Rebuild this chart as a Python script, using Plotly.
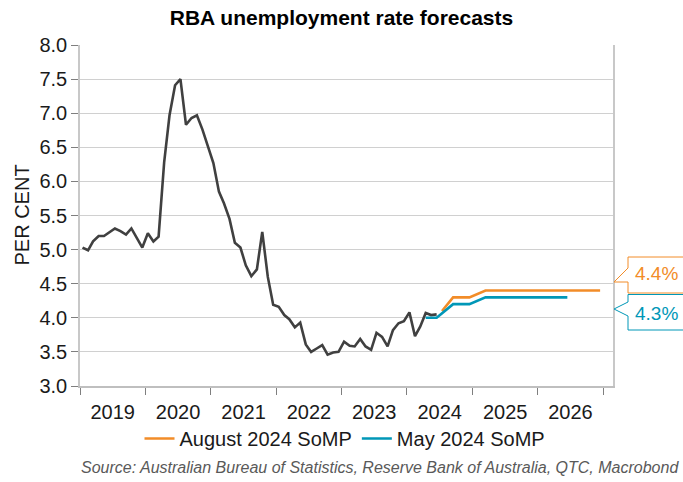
import pandas as pd
import plotly.graph_objects as go

# ---------------- data ----------------
actual_values = [
    # 2019
    5.03, 4.99, 5.12, 5.20, 5.20, 5.26, 5.31, 5.27, 5.22, 5.31, 5.17, 5.03,
    # 2020
    5.24, 5.12, 5.19, 6.28, 6.97, 7.41, 7.50, 6.83, 6.93, 6.97, 6.76, 6.52,
    # 2021
    6.27, 5.85, 5.68, 5.45, 5.10, 5.03, 4.77, 4.61, 4.71, 5.26, 4.60, 4.19,
    # 2022
    4.16, 4.04, 3.98, 3.86, 3.93, 3.61, 3.50, 3.55, 3.60, 3.46, 3.49, 3.50,
    # 2023
    3.65, 3.59, 3.58, 3.69, 3.58, 3.53, 3.78, 3.72, 3.58, 3.82, 3.92, 3.95,
    # 2024
    4.08, 3.73, 3.87, 4.07, 4.04, 4.05,
]
actual_dates = list(pd.date_range("2019-01-01", periods=len(actual_values), freq="MS")
                    + pd.Timedelta(days=14))

aug_dates = ["2024-07-15", "2024-09-15", "2024-12-15", "2025-03-15", "2025-06-15",
             "2025-09-15", "2025-12-15", "2026-03-15", "2026-06-15", "2026-09-15",
             "2026-12-15"]
aug_values = [4.1, 4.3, 4.3, 4.4, 4.4, 4.4, 4.4, 4.4, 4.4, 4.4, 4.4]

may_dates = ["2024-04-15", "2024-06-15", "2024-09-15", "2024-12-15", "2025-03-15",
             "2025-06-15", "2025-09-15", "2025-12-15", "2026-03-15", "2026-06-15"]
may_values = [4.0, 4.0, 4.2, 4.2, 4.3, 4.3, 4.3, 4.3, 4.3, 4.3]

title_text = "RBA unemployment rate forecasts"
y_title = "PER CENT"
aug_name = "August 2024 SoMP"
may_name = "May 2024 SoMP"
source_text = "Source: Australian Bureau of Statistics, Reserve Bank of Australia, QTC, Macrobond"

# ---------------- style ----------------
FONT = "Liberation Sans, Arial, sans-serif"
ORANGE = "#F28C28"
BLUE = "#0097B7"
DARK = "#404040"
W, H = 683, 482
ML, MR, MT, MB = 80, 70, 45, 96
PW, PH = W - ML - MR, H - MT - MB


def px_x(px):
    return (px - ML) / PW


def px_y(py):
    return (H - MB - py) / PH


fig = go.Figure()
fig.add_trace(go.Scatter(x=actual_dates, y=actual_values, mode="lines",
                         line=dict(color=DARK, width=2.6), showlegend=False,
                         name="Actual"))
fig.add_trace(go.Scatter(x=aug_dates, y=aug_values, mode="lines",
                         line=dict(color=ORANGE, width=2.6), name=aug_name))
fig.add_trace(go.Scatter(x=may_dates, y=may_values, mode="lines",
                         line=dict(color=BLUE, width=2.6), name=may_name))

# callouts
orange_path = "M {a},{t} L {b},{t} L {b},{m1} L {c},{p} L {b},{p} L {b},{bt} L {a},{bt}".format(
    a=px_x(700), b=px_x(628), c=px_x(614), t=px_y(257), m1=px_y(268), p=px_y(282), bt=px_y(293))
blue_path = "M {a},{t} L {b},{t} L {b},{m1} L {c},{p} L {b},{m2} L {b},{bt} L {a},{bt}".format(
    a=px_x(700), b=px_x(628), c=px_x(614), t=px_y(294.5), m1=px_y(302), p=px_y(309),
    m2=px_y(316), bt=px_y(330))
fig.add_shape(type="path", path=orange_path, xref="paper", yref="paper",
              line=dict(color=ORANGE, width=1), fillcolor="white", layer="above")
fig.add_shape(type="path", path=blue_path, xref="paper", yref="paper",
              line=dict(color=BLUE, width=1), fillcolor="white", layer="above")
fig.add_annotation(x=px_x(656), y=px_y(273), xref="paper", yref="paper",
                   text=f"{aug_values[-1]:.1f}%", showarrow=False,
                   font=dict(family=FONT, size=19, color=ORANGE),
                   xanchor="center", yanchor="middle")
fig.add_annotation(x=px_x(656), y=px_y(313), xref="paper", yref="paper",
                   text=f"{may_values[-1]:.1f}%", showarrow=False,
                   font=dict(family=FONT, size=19, color=BLUE),
                   xanchor="center", yanchor="middle")

# y-axis title
fig.add_annotation(x=px_x(21), y=0.5, xref="paper", yref="paper", text=y_title,
                   textangle=-90, showarrow=False,
                   font=dict(family=FONT, size=20, color="#1a1a1a"),
                   xanchor="center", yanchor="middle")

# source
fig.add_annotation(x=px_x(681), y=px_y(467), xref="paper", yref="paper",
                   text=f"<i>{source_text}</i>", showarrow=False,
                   font=dict(family=FONT, size=16, color="#595959"),
                   xanchor="right", yanchor="middle")

fig.update_layout(
    width=W, height=H,
    margin=dict(l=ML, r=MR, t=MT, b=MB, autoexpand=False),
    paper_bgcolor="white", plot_bgcolor="white",
    font=dict(family=FONT, size=20, color="#1a1a1a"),
    title=dict(text=f"<b>{title_text}</b>", x=0.5, xanchor="center",
               y=1 - 18 / H, yanchor="middle", yref="container",
               font=dict(family=FONT, size=21, color="black")),
    showlegend=True,
    legend=dict(orientation="h", x=px_x(345), xanchor="center",
                y=px_y(419), yanchor="top", font=dict(family=FONT, size=20),
                itemwidth=30, bgcolor="rgba(0,0,0,0)"),
    xaxis=dict(type="date", range=["2019-01-01", "2027-02-25"],
               tickmode="linear", tick0="2019-01-01", dtick="M12",
               tickformat="%Y", ticklabelmode="period",
               ticks="outside", ticklen=7, tickcolor="#7f7f7f", tickwidth=1,
               showgrid=False, showline=True, linecolor="#bfbfbf", linewidth=1.5,
               tickfont=dict(family=FONT, size=20, color="#1a1a1a")),
    yaxis=dict(range=[3, 8], tickmode="linear", tick0=3, dtick=0.5,
               tickformat=".1f", ticks="outside", ticklen=7, tickcolor="#7f7f7f",
               showgrid=True, gridcolor="#d0d0d0", gridwidth=1.3, zeroline=False,
               showline=True, linecolor="#c8c8c8", linewidth=1.5, mirror=True,
               tickfont=dict(family=FONT, size=20, color="#1a1a1a")),
)

fig.write_html("out.html")
